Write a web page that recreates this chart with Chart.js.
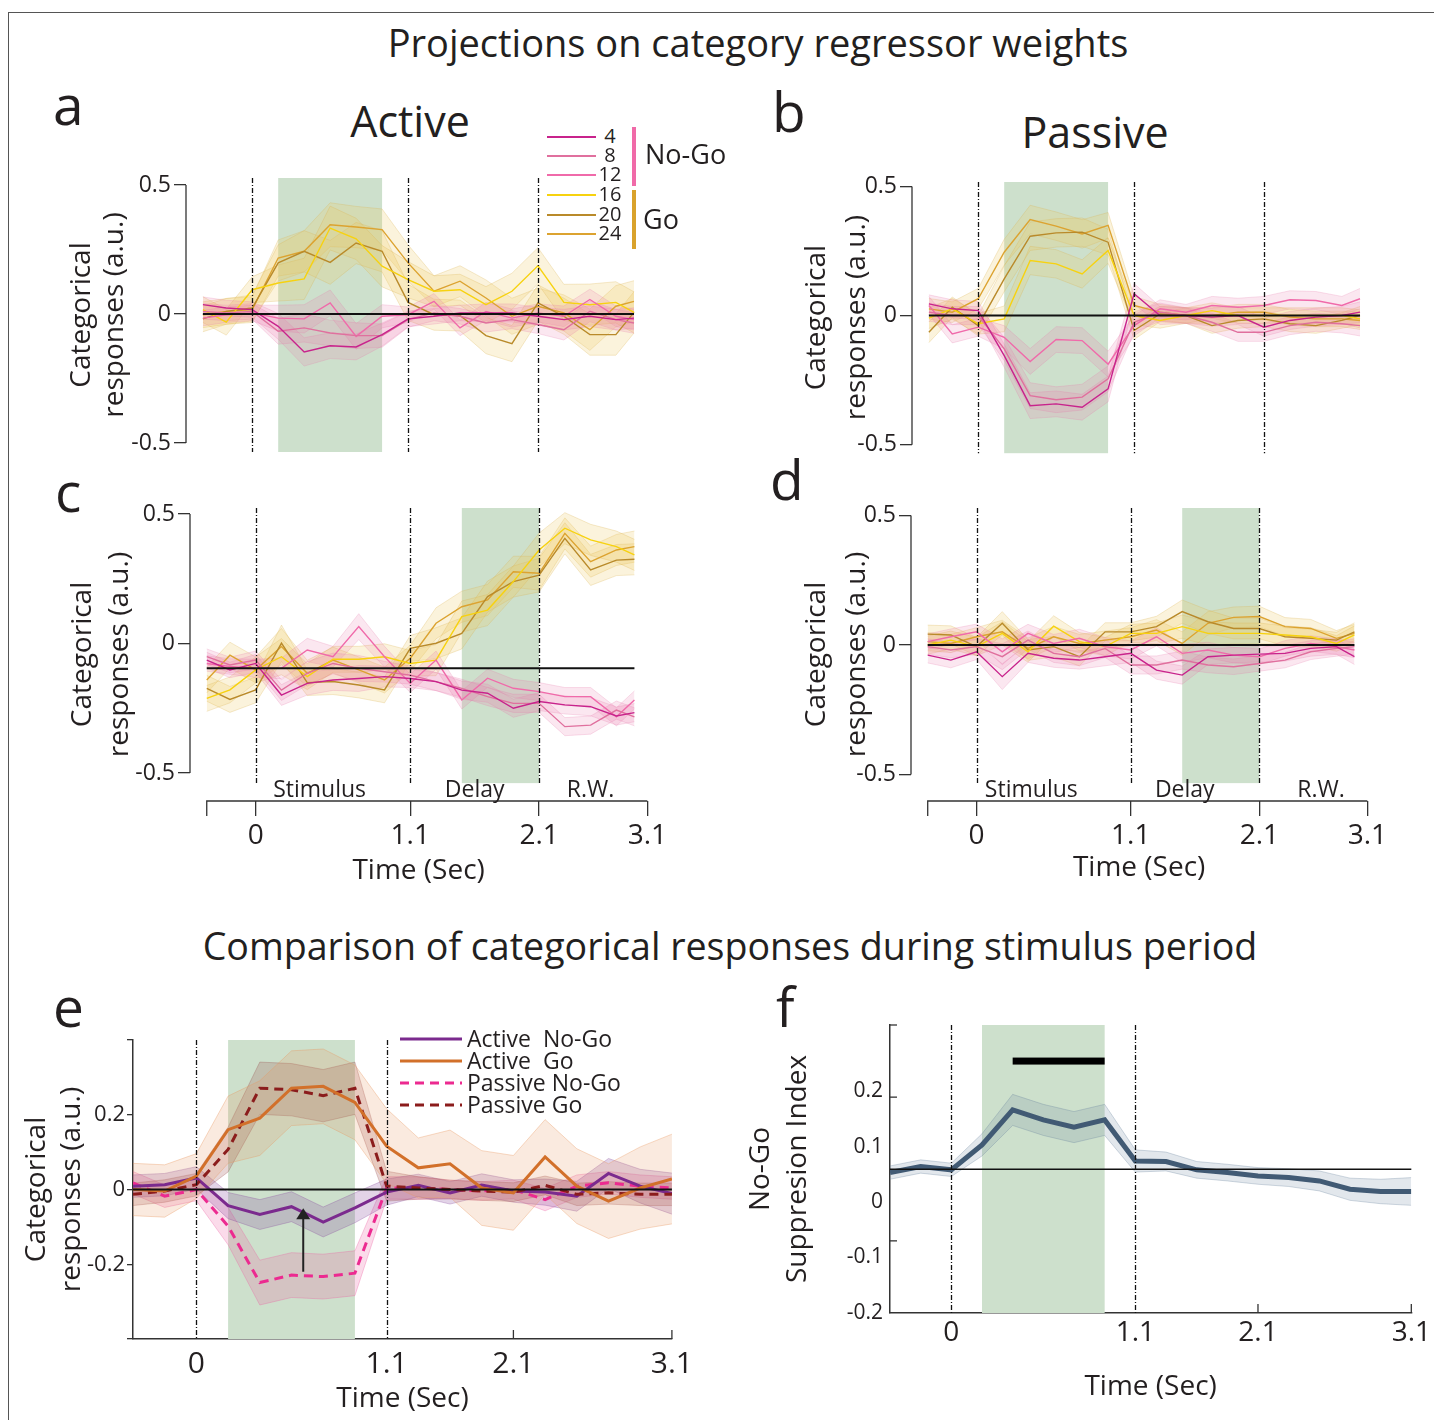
<!DOCTYPE html>
<html>
<head>
<meta charset="utf-8">
<script src="https://cdn.jsdelivr.net/npm/chart.js@4.4.0/dist/chart.umd.min.js"></script>
<style>
body { margin: 0; background: #fff; font-family: "Open Sans", sans-serif; color: #231f20; }
#fig { position: relative; width: 1434px; height: 1420px; overflow: hidden; }
.frame { position: absolute; left: 8px; top: 12px; width: 1500px; height: 1500px; border-left: 1px solid #555; border-top: 1px solid #555; }
canvas { position: absolute; }
.t { position: absolute; white-space: nowrap; line-height: 1; }
.c { transform: translateX(-50%); }
</style>
</head>
<body>
<div id="fig">
  <div class="frame"></div>

  <div class="t c" style="left:758px;top:23px;font-size:38px">Projections on category regressor weights</div>
  <div class="t" style="left:53px;top:76px;font-size:55px">a</div>
  <div class="t c" style="left:410px;top:99px;font-size:43px">Active</div>
  <div class="t" style="left:772px;top:83px;font-size:55px">b</div>
  <div class="t c" style="left:1095px;top:110px;font-size:43px">Passive</div>
  <div class="t" style="left:55px;top:463px;font-size:55px">c</div>
  <div class="t" style="left:770px;top:451px;font-size:55px">d</div>
  <div class="t c" style="left:730px;top:927px;font-size:37.6px">Comparison of categorical responses during stimulus period</div>
  <div class="t" style="left:53px;top:978px;font-size:55px">e</div>
  <div class="t" style="left:776px;top:978px;font-size:55px">f</div>

  <canvas id="chartA" width="620" height="320" style="left:40px;top:150px"></canvas>
  <canvas id="chartB" width="630" height="320" style="left:760px;top:150px"></canvas>
  <canvas id="chartC" width="630" height="410" style="left:40px;top:490px"></canvas>
  <canvas id="chartD" width="630" height="410" style="left:760px;top:490px"></canvas>
  <canvas id="chartE" width="700" height="420" style="left:0px;top:1000px"></canvas>
  <canvas id="chartF" width="694" height="420" style="left:740px;top:1000px"></canvas>

  <div id="legendA"></div>
  <div id="legendE"></div>
</div>

<script>
// ---------------- data ----------------
var timeBins = [-1.9, -1, 0, 1, 2, 3, 4, 5, 6, 7, 8, 9, 10, 11, 12, 13, 14, 14.7];
var timeBinsEF = [-2, -1, 0, 1, 2, 3, 4, 5, 6, 7, 8, 9, 10, 11, 12, 13, 14, 15];
var timeTickBins = [0, 6, 11, 15.2];
var timeTickBinsEF = [0, 6, 10, 15];
var timeTickLabels = ['0', '1.1', '2.1', '3.1'];

var sizeLabels = ['4', '8', '12', '16', '20', '24'];
var sizeColors = ['#c8238c', '#e0709e', '#f06aaa', '#f7d20f', '#b98a2a', '#dca330'];

// panel a - active, stimulus regressor
var a4  = [0.036, 0.023, 0.017, -0.048, -0.147, -0.123, -0.128, -0.080, -0.019, -0.009, 0.004, 0.004, 0.004, -0.009, -0.022, -0.009, -0.022, -0.016];
var a8  = [0.010, 0.004, 0.010, -0.067, -0.054, -0.074, -0.084, -0.084, -0.022, 0.004, -0.009, -0.035, -0.022, -0.041, -0.061, 0.010, -0.022, -0.035];
var a12 = [-0.016, -0.003, 0.004, -0.016, -0.019, 0.043, -0.087, -0.009, -0.003, 0.049, -0.054, 0.010, -0.016, 0.004, -0.009, 0.056, -0.009, -0.022];
var a16 = [0.017, -0.032, 0.094, 0.120, 0.136, 0.333, 0.291, 0.185, 0.133, 0.088, 0.094, 0.036, 0.088, 0.187, 0.045, 0.036, 0.045, 0.006];
var a20 = [-0.019, 0.010, 0.023, 0.198, 0.243, 0.200, 0.275, 0.243, 0.045, -0.003, -0.006, -0.084, -0.115, 0.043, -0.009, -0.080, -0.080, 0.006];
var a24 = [-0.003, 0.010, 0.017, 0.217, 0.243, 0.346, 0.337, 0.327, 0.198, 0.088, 0.127, 0.062, -0.009, 0.030, 0.004, -0.061, 0.030, 0.049];
var aErrNoGo = [0.03, 0.03, 0.03, 0.05, 0.055, 0.05, 0.05, 0.045, 0.03, 0.03, 0.03, 0.035, 0.035, 0.035, 0.04, 0.04, 0.04, 0.04];
var aErrGo   = [0.05, 0.05, 0.05, 0.07, 0.08, 0.085, 0.08, 0.08, 0.07, 0.06, 0.06, 0.07, 0.07, 0.07, 0.07, 0.08, 0.08, 0.08];

// panel b - passive, stimulus regressor
var b4  = [0.045, 0.026, 0.019, -0.155, -0.349, -0.342, -0.355, -0.284, 0.084, 0, 0, -0.006, 0, -0.045, -0.019, -0.006, 0, 0.013];
var b8  = [0.013, 0, 0, -0.129, -0.310, -0.326, -0.316, -0.245, -0.026, 0.013, 0, -0.026, -0.065, -0.065, -0.039, -0.026, -0.032, -0.039];
var b12 = [0.039, -0.071, -0.045, -0.084, -0.178, -0.093, -0.097, -0.188, -0.039, 0.026, 0.013, 0.039, 0.032, 0.039, 0.061, 0.058, 0.039, 0.065];
var b16 = [-0.010, 0.026, -0.032, -0.013, 0.213, 0.200, 0.161, 0.252, 0, -0.019, 0, 0.019, 0, 0, 0, 0, 0, -0.013];
var b20 = [-0.065, 0.032, -0.039, 0.142, 0.307, 0.320, 0.323, 0.284, -0.058, 0.006, 0, -0.039, -0.019, -0.013, -0.032, -0.039, -0.019, 0];
var b24 = [0.026, 0.013, 0.065, 0.245, 0.372, 0.346, 0.316, 0.349, 0.039, 0.013, 0, 0, 0.013, 0.013, -0.006, -0.013, -0.013, -0.019];
var bErrNoGo = [0.035, 0.035, 0.035, 0.045, 0.05, 0.05, 0.05, 0.05, 0.04, 0.035, 0.03, 0.035, 0.035, 0.035, 0.035, 0.035, 0.035, 0.04];
var bErrGo   = [0.04, 0.04, 0.04, 0.05, 0.055, 0.055, 0.055, 0.05, 0.035, 0.03, 0.03, 0.03, 0.03, 0.03, 0.03, 0.03, 0.03, 0.035];

// panel c - active, delay regressor
var c4  = [-0.064, -0.102, -0.077, -0.199, -0.154, -0.141, -0.135, -0.128, -0.135, -0.147, -0.180, -0.192, -0.250, -0.224, -0.237, -0.244, -0.280, -0.267];
var c8  = [-0.051, -0.083, -0.064, -0.180, -0.115, -0.077, -0.096, -0.109, -0.122, -0.147, -0.173, -0.205, -0.231, -0.231, -0.321, -0.315, -0.257, -0.283];
var c12 = [-0.077, -0.089, -0.096, -0.096, -0.025, -0.051, 0.065, -0.051, -0.154, -0.064, -0.218, -0.134, -0.173, -0.186, -0.205, -0.205, -0.283, -0.218];
var c16 = [-0.212, -0.179, -0.102, -0.051, -0.128, -0.061, -0.061, -0.051, -0.077, -0.064, 0.104, 0.129, 0.239, 0.361, 0.445, 0.400, 0.374, 0.342];
var c20 = [-0.173, -0.216, -0.179, 0.001, -0.151, -0.147, -0.160, -0.179, -0.019, 0.001, 0.039, 0.181, 0.239, 0.264, 0.406, 0.284, 0.322, 0.325];
var c24 = [-0.141, -0.045, -0.102, -0.012, -0.115, -0.064, -0.102, -0.141, -0.057, 0.078, 0.142, 0.168, 0.277, 0.271, 0.425, 0.316, 0.361, 0.374];
var cErrNoGo = [0.03, 0.03, 0.035, 0.04, 0.045, 0.04, 0.05, 0.04, 0.035, 0.035, 0.035, 0.035, 0.035, 0.035, 0.035, 0.035, 0.035, 0.035];
var cErrGo   = [0.05, 0.05, 0.05, 0.07, 0.05, 0.05, 0.05, 0.05, 0.05, 0.06, 0.06, 0.06, 0.06, 0.065, 0.06, 0.06, 0.06, 0.06];
var cBaseline = -0.096;

// panel d - passive, delay regressor
var d4  = [-0.039, -0.058, -0.026, -0.122, -0.032, -0.051, -0.058, -0.045, -0.032, -0.097, -0.116, -0.045, -0.039, -0.035, -0.032, -0.013, -0.006, -0.045];
var d8  = [-0.006, -0.019, -0.006, -0.045, 0.019, -0.032, -0.045, -0.013, -0.077, -0.077, -0.058, -0.077, -0.084, -0.071, -0.058, -0.026, -0.013, -0.006];
var d12 = [0.013, 0.032, 0.051, -0.026, 0.045, 0.006, 0.026, -0.006, -0.019, 0.032, -0.032, -0.019, -0.039, -0.045, -0.013, 0.006, -0.006, -0.019];
var d16 = [0, 0.019, -0.006, 0.045, -0.026, 0.073, 0.013, -0.006, 0.045, 0.045, 0.071, 0.045, 0.045, 0.045, 0.039, 0.032, 0.006, 0.039];
var d20 = [0.042, 0.039, -0.006, 0.084, -0.019, -0.006, -0.045, 0.051, 0.051, 0.071, 0.129, 0.090, 0.064, 0.064, 0.032, 0.026, 0.019, 0.051];
var d24 = [0.013, 0.006, 0.032, 0.051, -0.013, 0.032, 0.006, 0.019, 0.032, 0.058, 0.006, 0.084, 0.107, 0.110, 0.071, 0.064, 0.026, 0.045];
var dErrNoGo = [0.03, 0.03, 0.03, 0.05, 0.035, 0.035, 0.035, 0.035, 0.035, 0.035, 0.035, 0.03, 0.03, 0.03, 0.03, 0.03, 0.03, 0.03];
var dErrGo   = [0.035, 0.035, 0.035, 0.045, 0.04, 0.04, 0.035, 0.035, 0.035, 0.04, 0.045, 0.045, 0.04, 0.04, 0.035, 0.035, 0.03, 0.035];

// panel e - comparison of conditions
var eLabels = ['Active  No-Go', 'Active  Go', 'Passive No-Go', 'Passive Go'];
var eActNoGo = [0.009, 0.013, 0.031, -0.043, -0.067, -0.046, -0.087, -0.049, -0.007, 0.011, -0.009, 0.012, -0.004, -0.007, -0.018, 0.043, 0.009, -0.011];
var eActGo   = [0, -0.004, 0.036, 0.160, 0.191, 0.271, 0.276, 0.233, 0.116, 0.058, 0.069, 0.004, -0.009, 0.087, 0.009, -0.031, 0.004, 0.028];
var ePasNoGo = [0.018, -0.018, 0, -0.098, -0.249, -0.229, -0.233, -0.224, 0.004, 0.004, 0, -0.004, 0, -0.027, 0.009, 0.018, 0.009, 0.004];
var ePasGo   = [-0.013, -0.004, 0.013, 0.107, 0.271, 0.267, 0.251, 0.271, 0.009, 0.004, 0, -0.004, -0.007, 0.011, -0.013, -0.009, -0.013, -0.013];
var eErrActNoGo = [0.03, 0.03, 0.03, 0.035, 0.04, 0.04, 0.04, 0.04, 0.035, 0.03, 0.03, 0.03, 0.03, 0.035, 0.04, 0.04, 0.045, 0.055];
var eErrActGo   = [0.07, 0.07, 0.06, 0.09, 0.1, 0.1, 0.1, 0.1, 0.1, 0.08, 0.09, 0.1, 0.1, 0.1, 0.1, 0.1, 0.11, 0.12];
var eErrPasNoGo = [0.03, 0.03, 0.03, 0.05, 0.06, 0.06, 0.06, 0.06, 0.03, 0.03, 0.025, 0.025, 0.025, 0.03, 0.03, 0.03, 0.03, 0.03];
var eErrPasGo   = [0.03, 0.03, 0.03, 0.06, 0.07, 0.07, 0.07, 0.07, 0.04, 0.03, 0.025, 0.025, 0.025, 0.025, 0.03, 0.03, 0.03, 0.03];

// panel f - No-Go suppression index
var fIndex = [0.053, 0.064, 0.058, 0.103, 0.166, 0.148, 0.135, 0.148, 0.074, 0.073, 0.058, 0.053, 0.047, 0.044, 0.038, 0.023, 0.019, 0.019];
var fErr   = [0.012, 0.012, 0.012, 0.02, 0.028, 0.028, 0.028, 0.028, 0.02, 0.017, 0.015, 0.015, 0.015, 0.016, 0.018, 0.02, 0.022, 0.025];
var fBaseline = 0.059;
var fSigBins = [2, 5];
var fSigLevel = 0.254;

// ---------------- helpers ----------------
var FONT = '"Open Sans", sans-serif';
var INK = '#231f20';

function pts(xs, ys) {
  return xs.map(function (x, i) { return { x: x, y: ys[i] }; });
}

// lower bound, upper bound (filled to lower), mean line
function withBand(list, xs, mean, err, line, band, edge, width, dash) {
  var n = list.length;
  list.push({ data: pts(xs, mean.map(function (m, i) { return m - err[i]; })), borderColor: edge, borderWidth: 0.8, pointRadius: 0, fill: false, order: 3 });
  list.push({ data: pts(xs, mean.map(function (m, i) { return m + err[i]; })), borderColor: edge, borderWidth: 0.8, pointRadius: 0, fill: n, backgroundColor: band, order: 3 });
  list.push({ data: pts(xs, mean), borderColor: line, borderWidth: width, borderDash: dash || [], pointRadius: 0, fill: false, order: 1 });
}

function sizeSets(xs, series, errNoGo, errGo) {
  var list = [];
  series.forEach(function (s, k) {
    var go = k >= 3;
    withBand(list, xs, s, go ? errGo : errNoGo, sizeColors[k],
      go ? 'rgba(235,200,95,0.22)' : 'rgba(232,120,170,0.18)',
      go ? 'rgba(220,180,80,0.35)' : 'rgba(230,120,170,0.3)', 1.4);
  });
  return list;
}

var decor = {
  id: 'decor',
  beforeDatasetsDraw: function (chart, args, o) {
    if (!o.green) return;
    var xs = chart.scales.x, ys = chart.scales.y, ca = chart.chartArea, ctx = chart.ctx;
    var top = o.top != null ? ys.getPixelForValue(o.top) : ca.top;
    var bot = o.bottom != null ? ys.getPixelForValue(o.bottom) : ca.bottom;
    var x0 = xs.getPixelForValue(o.green[0]), x1 = xs.getPixelForValue(o.green[1]);
    ctx.save();
    ctx.fillStyle = '#cde0cc';
    ctx.fillRect(x0, top, x1 - x0, bot - top);
    ctx.restore();
  },
  afterDatasetsDraw: function (chart, args, o) {
    var xs = chart.scales.x, ys = chart.scales.y, ca = chart.chartArea, ctx = chart.ctx;
    var top = o.top != null ? ys.getPixelForValue(o.top) : ca.top;
    var bot = o.bottom != null ? ys.getPixelForValue(o.bottom) : ca.bottom;
    ctx.save();
    ctx.strokeStyle = '#111';
    if (o.hline) {
      var hy = ys.getPixelForValue(o.hline.y);
      ctx.lineWidth = o.hline.width;
      ctx.beginPath();
      ctx.moveTo(o.hline.x0 != null ? xs.getPixelForValue(o.hline.x0) : ca.left, hy);
      ctx.lineTo(o.hline.x1 != null ? xs.getPixelForValue(o.hline.x1) : ca.right, hy);
      ctx.stroke();
    }
    ctx.lineWidth = 1.3;
    ctx.setLineDash([5, 2, 1, 2]);
    (o.events || []).forEach(function (t) {
      var px = Math.round(xs.getPixelForValue(t)) + 0.5;
      ctx.beginPath(); ctx.moveTo(px, top); ctx.lineTo(px, bot); ctx.stroke();
    });
    ctx.setLineDash([]);
    ctx.strokeStyle = '#333';
    ctx.lineWidth = 1.3;
    if (o.yAxis) {
      ctx.beginPath();
      ctx.moveTo(ca.left, ys.getPixelForValue(o.yAxis[1]));
      ctx.lineTo(ca.left, ys.getPixelForValue(o.yAxis[0]));
      ctx.stroke();
    }
    if (o.xAxis) {
      var xa = xs.getPixelForValue(o.xAxis[0]);
      ctx.beginPath();
      ctx.moveTo(xa, ca.bottom + 15);
      ctx.lineTo(xa, ca.bottom);
      ctx.lineTo(xs.getPixelForValue(o.xAxis[1]), ca.bottom);
      ctx.stroke();
    }
    (o.xTicksIn || []).forEach(function (t) {
      var px = xs.getPixelForValue(t);
      ctx.beginPath(); ctx.moveTo(px, ca.bottom); ctx.lineTo(px, ca.bottom - 9); ctx.stroke();
    });
    (o.yTicksIn || []).forEach(function (v) {
      var py = ys.getPixelForValue(v);
      ctx.beginPath(); ctx.moveTo(ca.left, py); ctx.lineTo(ca.left + 7, py); ctx.stroke();
    });
    if (o.regions) {
      ctx.fillStyle = INK;
      ctx.font = '23px ' + FONT;
      ctx.textAlign = 'center';
      ctx.textBaseline = 'alphabetic';
      o.regions.forEach(function (r) {
        ctx.fillText(r[0], xs.getPixelForValue(r[1]), ca.bottom - 4);
      });
    }
    if (o.arrow) {
      var ax = xs.getPixelForValue(o.arrow[0]);
      var ay0 = ys.getPixelForValue(o.arrow[1]), ay1 = ys.getPixelForValue(o.arrow[2]);
      ctx.strokeStyle = '#222'; ctx.fillStyle = '#222'; ctx.lineWidth = 2;
      ctx.beginPath(); ctx.moveTo(ax, ay0); ctx.lineTo(ax, ay1 + 8); ctx.stroke();
      ctx.beginPath(); ctx.moveTo(ax, ay1); ctx.lineTo(ax - 7, ay1 + 11); ctx.lineTo(ax + 7, ay1 + 11); ctx.closePath(); ctx.fill();
    }
    if (o.sigBar) {
      var sy = ys.getPixelForValue(o.sigBar[2]);
      ctx.fillStyle = '#000';
      ctx.fillRect(xs.getPixelForValue(o.sigBar[0]), sy - 3.5, xs.getPixelForValue(o.sigBar[1]) - xs.getPixelForValue(o.sigBar[0]), 7);
    }
    ctx.restore();
  }
};
Chart.register(decor);

function makeChart(id, p) {
  var yTicks = p.yTicks;
  var xTicks = p.xTicks;
  var xShow = !!p.xTitle;
  return new Chart(document.getElementById(id).getContext('2d'), {
    type: 'line',
    data: { datasets: p.datasets },
    options: {
      responsive: false,
      animation: false,
      events: [],
      layout: { padding: p.padding },
      plugins: { legend: { display: false }, tooltip: { enabled: false }, decor: p.decor },
      scales: {
        x: {
          type: 'linear', min: p.xMin, max: p.xMax, display: xShow,
          afterBuildTicks: function (s) { s.ticks = xTicks.map(function (v) { return { value: v }; }); },
          afterFit: function (s) { if (p.xHeight) s.height = p.xHeight; },
          ticks: {
            autoSkip: false, maxRotation: 0, color: INK, padding: p.xTickPad,
            font: { family: FONT, size: p.xTickSize },
            callback: function (v, i) { return timeTickLabels[i]; }
          },
          grid: { drawOnChartArea: false, drawTicks: p.xTickLen > 0, tickLength: p.xTickLen, color: '#333', lineWidth: 1.3 },
          border: { display: !!p.xBorder, color: '#333', width: 1.5 },
          title: { display: xShow, text: p.xTitle, color: INK, font: { family: FONT, size: 28 }, padding: { top: 0, bottom: p.xTitlePad } }
        },
        y: {
          min: p.yMin, max: p.yMax,
          afterBuildTicks: function (s) { s.ticks = yTicks.map(function (v) { return { value: v }; }); },
          afterFit: function (s) { s.width = p.yWidth; },
          ticks: {
            color: INK, padding: p.yTickPad, font: { family: FONT, size: p.yTickSize },
            callback: function (v) { return (p.yHide && p.yHide.indexOf(v) >= 0) ? '' : String(v); }
          },
          grid: { drawOnChartArea: false, drawTicks: p.yTickLen > 0, tickLength: p.yTickLen, color: '#333', lineWidth: 1.3 },
          border: { display: !!p.yBorder, color: '#333', width: 1.5 },
          title: { display: true, text: p.yTitle, color: INK, font: { family: FONT, size: 28, lineHeight: p.yTitleLH }, padding: { top: p.yTitlePad, bottom: 0 } }
        }
      }
    }
  });
}

var catTitle = ['Categorical', 'responses (a.u.)'];

// ---------------- panel a ----------------
makeChart('chartA', {
  datasets: sizeSets(timeBins, [a4, a8, a12, a16, a20, a24], aErrNoGo, aErrGo),
  padding: { left: 0, right: 13, top: 28, bottom: 18 },
  xMin: -2.55, xMax: 15.2, xTicks: timeTickBins,
  yMin: -0.535, yMax: 0.527, yTicks: [0.5, 0, -0.5], yWidth: 146,
  yTickSize: 23, yTickPad: 3, yTickLen: 12, yTitle: catTitle, yTitlePad: 25, yTitleLH: 1.2,
  decor: { green: [1, 5], top: 0.527, bottom: -0.535, events: [0, 6, 11], hline: { y: 0, x0: -1.9, x1: 14.7, width: 2 }, yAxis: [-0.5, 0.5] }
});

// ---------------- panel b ----------------
makeChart('chartB', {
  datasets: sizeSets(timeBins, [b4, b8, b12, b16, b20, b24], bErrNoGo, bErrGo),
  padding: { left: 0, right: 17, top: 32, bottom: 16 },
  xMin: -2.55, xMax: 15.2, xTicks: timeTickBins,
  yMin: -0.533, yMax: 0.517, yTicks: [0.5, 0, -0.5], yWidth: 152,
  yTickSize: 23, yTickPad: 3, yTickLen: 12, yTitle: catTitle, yTitlePad: 37, yTitleLH: 1.43,
  decor: { green: [1, 5], top: 0.517, bottom: -0.533, events: [0, 6, 11], hline: { y: 0, x0: -1.9, x1: 14.7, width: 2 }, yAxis: [-0.5, 0.5] }
});

// ---------------- panel c ----------------
makeChart('chartC', {
  datasets: sizeSets(timeBins, [c4, c8, c12, c16, c20, c24], cErrNoGo, cErrGo),
  padding: { left: 0, right: 22, top: 18, bottom: 0 },
  xMin: -2.55, xMax: 15.2, xTicks: timeTickBins, xHeight: 99, xTickSize: 28, xTickPad: 3, xTickLen: 15,
  xTitle: 'Time (Sec)', xTitlePad: 12,
  yMin: -0.608, yMax: 0.523, yTicks: [0.5, 0, -0.5], yWidth: 150,
  yTickSize: 23, yTickPad: 3, yTickLen: 12, yTitle: catTitle, yTitlePad: 25, yTitleLH: 1.3,
  decor: {
    green: [8, 11], top: 0.523, bottom: -0.539, events: [0, 6, 11], hline: { y: cBaseline, x0: -1.9, x1: 14.7, width: 2 },
    yAxis: [-0.5, 0.5], xAxis: [-1.9, 15.2], regions: [['Stimulus', 2.48], ['Delay', 8.5], ['R.W.', 13.0]]
  }
});

// ---------------- panel d ----------------
makeChart('chartD', {
  datasets: sizeSets(timeBins, [d4, d8, d12, d16, d20, d24], dErrNoGo, dErrGo),
  padding: { left: 0, right: 21, top: 18, bottom: 0 },
  xMin: -2.55, xMax: 15.2, xTicks: timeTickBins, xHeight: 99, xTickSize: 28, xTickPad: 3, xTickLen: 15,
  xTitle: 'Time (Sec)', xTitlePad: 15,
  yMin: -0.602, yMax: 0.529, yTicks: [0.5, 0, -0.5], yWidth: 151,
  yTickSize: 23, yTickPad: 3, yTickLen: 12, yTitle: catTitle, yTitlePad: 37, yTitleLH: 1.43,
  decor: {
    green: [8, 11], top: 0.529, bottom: -0.533, events: [0, 6, 11], hline: { y: 0, x0: -1.9, x1: 14.7, width: 2 },
    yAxis: [-0.5, 0.5], xAxis: [-1.9, 15.2], regions: [['Stimulus', 2.13], ['Delay', 8.1], ['R.W.', 13.4]]
  }
});

// ---------------- panel e ----------------
var eSets = [];
withBand(eSets, timeBinsEF, eActGo, eErrActGo, '#d2702a', 'rgba(232,150,95,0.2)', 'rgba(232,150,95,0.45)', 3);
withBand(eSets, timeBinsEF, ePasGo, eErrPasGo, '#8b1c1c', 'rgba(150,70,70,0.22)', 'rgba(150,70,70,0.35)', 3, [9, 6]);
withBand(eSets, timeBinsEF, eActNoGo, eErrActNoGo, '#7b2a8e', 'rgba(140,80,160,0.25)', 'rgba(140,80,160,0.4)', 3);
withBand(eSets, timeBinsEF, ePasNoGo, eErrPasNoGo, '#ec2a90', 'rgba(236,90,160,0.22)', 'rgba(236,90,160,0.4)', 3, [9, 6]);
makeChart('chartE', {
  datasets: eSets,
  padding: { left: 0, right: 28, top: 40, bottom: 0 },
  xMin: -2, xMax: 15, xTicks: timeTickBinsEF, xHeight: 81, xTickSize: 30, xTickPad: 7, xTickLen: 0, xBorder: true,
  xTitle: 'Time (Sec)', xTitlePad: 4,
  yMin: -0.4, yMax: 0.4, yTicks: [0.4, 0.2, 0, -0.2, -0.4], yHide: [0.4, -0.4], yWidth: 133,
  yTickSize: 22, yTickPad: 2, yTickLen: 6, yBorder: true, yTitle: catTitle, yTitlePad: 20, yTitleLH: 1.25,
  decor: {
    green: [1, 5], events: [0, 6], hline: { y: 0, width: 2.2 }, xTicksIn: [10, 15],
    arrow: [3.37, -0.22, -0.05]
  }
});

// ---------------- panel f ----------------
var fSets = [];
withBand(fSets, timeBinsEF, fIndex, fErr, '#415a74', 'rgba(110,135,160,0.2)', 'rgba(110,135,160,0.4)', 5);
makeChart('chartF', {
  datasets: fSets,
  padding: { left: 0, right: 20, top: 25, bottom: 0 },
  xMin: -2, xMax: 15, xTicks: timeTickBinsEF, xHeight: 107, xTickSize: 28, xTickPad: 3, xTickLen: 0, xBorder: true,
  xTitle: 'Time (Sec)', xTitlePad: 16,
  yMin: -0.2, yMax: 0.319, yTicks: [0.2, 0.1, 0, -0.1, -0.2], yWidth: 150,
  yTickSize: 21, yTickPad: 7, yTickLen: 0, yBorder: true, yTitle: ['No-Go', 'Suppresion Index'], yTitlePad: 3, yTitleLH: 1.32,
  decor: {
    green: [1, 5], events: [0, 6], hline: { y: fBaseline, width: 1.6 }, xTicksIn: [10, 15],
    yTicksIn: [0.319, 0.189, -0.07], sigBar: [fSigBins[0], fSigBins[1], fSigLevel]
  }
});

// ---------------- legends ----------------
function svgLine(color, width, dash) {
  return '<svg width="62" height="8" style="position:absolute;left:0;top:-4px"><line x1="0" y1="4" x2="62" y2="4" stroke="' + color +
    '" stroke-width="' + width + '"' + (dash ? ' stroke-dasharray="' + dash + '"' : '') + '/></svg>';
}

var legA = document.getElementById('legendA');
var legAY = [137, 156, 175, 195, 215, 234];
var htmlA = '';
sizeLabels.forEach(function (lab, k) {
  htmlA += '<div style="position:absolute;left:547px;top:' + legAY[k] + 'px;width:49px;height:0;border-top:2px solid ' + sizeColors[k] + ';margin-top:-1px"></div>';
  htmlA += '<div class="t c" style="left:610px;top:' + (legAY[k] - 11) + 'px;font-size:20px">' + lab + '</div>';
});
htmlA += '<div style="position:absolute;left:632px;top:127px;width:4px;height:59px;background:#f06aa8"></div>';
htmlA += '<div style="position:absolute;left:632px;top:190px;width:4px;height:59px;background:#d9a22c"></div>';
htmlA += '<div class="t" style="left:645px;top:140px;font-size:27px">No-Go</div>';
htmlA += '<div class="t" style="left:643px;top:205px;font-size:27px">Go</div>';
legA.innerHTML = htmlA;

var legE = document.getElementById('legendE');
var legEY = [1039, 1061, 1083, 1105];
var legEStyle = [['#7b2a8e', ''], ['#d2702a', ''], ['#ec2a90', '9,6'], ['#8b1c1c', '9,6']];
var htmlE = '';
eLabels.forEach(function (lab, k) {
  htmlE += '<div style="position:absolute;left:400px;top:' + legEY[k] + 'px">' + svgLine(legEStyle[k][0], 3, legEStyle[k][1]) + '</div>';
  htmlE += '<div class="t" style="left:467px;top:' + (legEY[k] - 12) + 'px;font-size:23px;white-space:pre">' + lab + '</div>';
});
legE.innerHTML = htmlE;
</script>
</body>
</html>
